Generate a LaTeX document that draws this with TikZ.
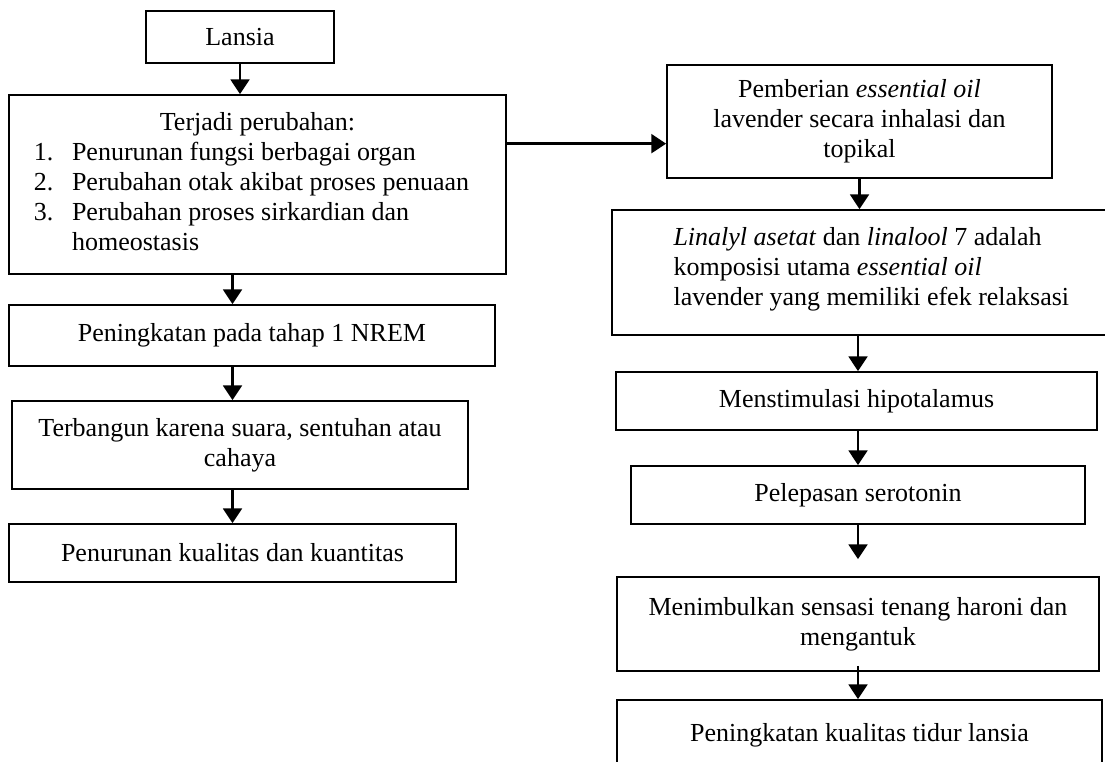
\documentclass[tikz,border=0pt]{standalone}
\usepackage{fontspec}
\setmainfont{Liberation Serif}
\usetikzlibrary{arrows.meta,calc}
\tikzstyle{arrow} = [line width=2pt,-{Triangle[length=11pt,width=14pt]}]
\tikzstyle{box} = [draw,line width=1.3pt,inner sep=0pt,align=center,font=\fontsize{19.5}{22.5}\selectfont]

\begin{document}
\begin{tikzpicture}[x=0.75pt,y=0.75pt,yscale=-1,xscale=1]
\useasboundingbox (0,0) rectangle (1105,762);
\clip (0,0) rectangle (1105,762);

%Left column
\node [box,minimum width=141pt,minimum height=39pt] (lansia) at (240,37) {Lansia};
\node [box,minimum width=372.75pt,minimum height=134.25pt] (ubah) at (257.5,184.5) {\begin{tabular}{@{}l@{\hspace{14pt}}l@{\hspace{9pt}}}
\multicolumn{2}{c}{Terjadi perubahan:}\\
1. & Penurunan fungsi berbagai organ\\
2. & Perubahan otak akibat proses penuaan\\
3. & Perubahan proses sirkardian dan\\
   & homeostasis
\end{tabular}};
\node [box,minimum width=364.5pt,minimum height=45.75pt] (nrem) at (252,335.5) {Peningkatan pada tahap 1 NREM};
\node [box,minimum width=342pt,minimum height=66pt] (bangun) at (240,445) {Terbangun karena suara, sentuhan atau\\ cahaya};
\node [box,minimum width=335.25pt,minimum height=43.5pt] (turun) at (232.5,553) {Penurunan kualitas dan kuantitas};

%Right column
\node [box,minimum width=288.75pt,minimum height=84.75pt] (beri) at (859.5,121.5) {Pemberian \textit{essential oil}\\ lavender secara inhalasi dan\\ topikal};
\node [box,minimum width=372pt,minimum height=93.75pt] (linalyl) at (860,272.5) {\begin{tabular}{@{\hspace{17pt}}l@{}}
\textit{Linalyl asetat} dan \textit{linalool} 7 adalah\\
komposisi utama \textit{essential oil}\\
lavender yang memiliki efek relaksasi
\end{tabular}\\[4pt]};
\node [box,minimum width=360.75pt,minimum height=43.5pt] (stimulasi) at (856.5,401) {Menstimulasi hipotalamus};
\node [box,minimum width=340.5pt,minimum height=43.5pt] (serotonin) at (858,495) {Pelepasan serotonin};
\node [box,minimum width=361.5pt,minimum height=70.5pt] (sensasi) at (858,624) {Menimbulkan sensasi tenang haroni dan\\ mengantuk};
\node [box,minimum width=363.75pt,minimum height=70.5pt] (kualitas) at (859.5,747) {Peningkatan kualitas tidur lansia\\ ~};

%Arrows
\draw [arrow] (lansia.south) -- (lansia.south |- ubah.north);
\draw [arrow] (turun.north |- ubah.south) -- (turun.north |- nrem.north);
\draw [arrow] (turun.north |- nrem.south) -- (turun.north |- bangun.north);
\draw [arrow] (turun.north |- bangun.south) -- (turun.north);
\coordinate (kanan) at ($(ubah.north east)!0.274!(ubah.south east)$);
\draw [arrow] (kanan) -- (kanan -| beri.west);
\draw [arrow] (beri.south) -- (beri.south |- linalyl.north);
\draw [arrow] (serotonin.north |- linalyl.south) -- (serotonin.north |- stimulasi.north);
\draw [arrow] (serotonin.north |- stimulasi.south) -- (serotonin.north);
\draw [arrow,shorten >=12.75pt] (serotonin.south) -- (serotonin.south |- sensasi.north);
\draw [arrow,shorten <=-4.5pt] (serotonin.south |- sensasi.south) -- (serotonin.south |- kualitas.north);

\end{tikzpicture}
\end{document}
